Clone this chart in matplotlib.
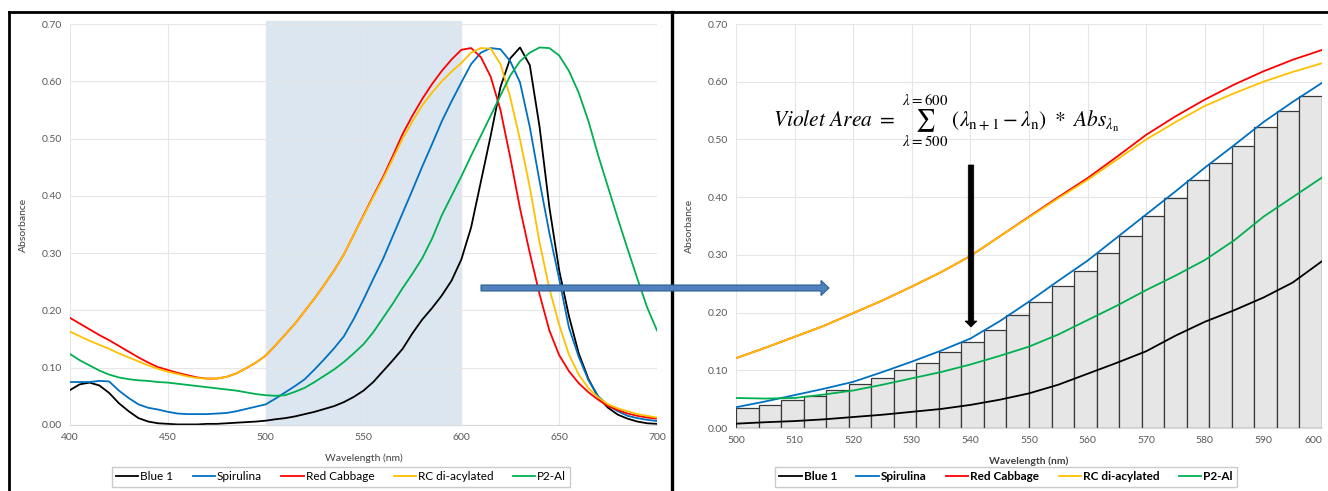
#! /usr/bin/env python3

import numpy as np
import matplotlib
matplotlib.use('Agg')
import matplotlib.pyplot as plt
from matplotlib.lines import Line2D
from matplotlib.patches import FancyArrow

# wavelength grid (nm), 5 nm steps
wavelength = list(range(400, 705, 5))

blue1 = [0.061, 0.071, 0.074, 0.069, 0.056, 0.038, 0.024, 0.012, 0.006, 0.003,
         0.002, 0.001, 0.001, 0.001, 0.002, 0.002, 0.003, 0.004, 0.005, 0.006,
         0.0075, 0.010, 0.012, 0.015, 0.019, 0.023, 0.028, 0.033, 0.040, 0.049,
         0.060, 0.075, 0.094, 0.113, 0.133, 0.160, 0.184, 0.204, 0.226, 0.252,
         0.289, 0.345, 0.425, 0.505, 0.590, 0.640, 0.659, 0.628, 0.520, 0.380,
         0.270, 0.190, 0.125, 0.080, 0.048, 0.030, 0.018, 0.011, 0.006, 0.003,
         0.002]

spirulina = [0.075, 0.075, 0.075, 0.077, 0.076, 0.060, 0.047, 0.036, 0.030, 0.027,
             0.023, 0.020, 0.019, 0.019, 0.019, 0.020, 0.021, 0.024, 0.028, 0.032,
             0.036, 0.046, 0.057, 0.068, 0.080, 0.097, 0.115, 0.134, 0.155, 0.185,
             0.219, 0.255, 0.290, 0.330, 0.370, 0.410, 0.451, 0.490, 0.530, 0.565,
             0.598, 0.630, 0.650, 0.658, 0.656, 0.635, 0.598, 0.520, 0.425, 0.335,
             0.255, 0.170, 0.119, 0.078, 0.050, 0.034, 0.024, 0.016, 0.012, 0.009,
             0.007]

red_cabbage = [0.187, 0.177, 0.167, 0.157, 0.148, 0.138, 0.128, 0.118, 0.109, 0.101,
               0.096, 0.091, 0.087, 0.083, 0.081, 0.081, 0.084, 0.090, 0.099, 0.109,
               0.121, 0.139, 0.158, 0.177, 0.199, 0.221, 0.245, 0.270, 0.298, 0.332,
               0.366, 0.400, 0.433, 0.470, 0.508, 0.540, 0.569, 0.595, 0.618, 0.638,
               0.655, 0.658, 0.642, 0.608, 0.550, 0.467, 0.378, 0.300, 0.228, 0.165,
               0.122, 0.094, 0.073, 0.057, 0.044, 0.033, 0.026, 0.020, 0.016, 0.013,
               0.011]

rc_diacylated = [0.163, 0.155, 0.147, 0.140, 0.133, 0.125, 0.118, 0.111, 0.104, 0.098,
                 0.093, 0.089, 0.085, 0.082, 0.081, 0.081, 0.084, 0.090, 0.099, 0.109,
                 0.121, 0.139, 0.158, 0.177, 0.199, 0.221, 0.245, 0.270, 0.298, 0.332,
                 0.365, 0.398, 0.430, 0.465, 0.500, 0.530, 0.558, 0.580, 0.600, 0.617,
                 0.632, 0.650, 0.658, 0.657, 0.630, 0.572, 0.498, 0.415, 0.318, 0.238,
                 0.175, 0.123, 0.088, 0.064, 0.048, 0.036, 0.029, 0.024, 0.019, 0.016,
                 0.013]

p2_al = [0.124, 0.113, 0.104, 0.095, 0.088, 0.083, 0.080, 0.078, 0.077, 0.075,
         0.074, 0.072, 0.070, 0.068, 0.066, 0.064, 0.062, 0.060, 0.057, 0.054,
         0.052, 0.051, 0.052, 0.058, 0.065, 0.075, 0.086, 0.097, 0.110, 0.125,
         0.141, 0.162, 0.187, 0.212, 0.239, 0.264, 0.291, 0.325, 0.366, 0.400,
         0.434, 0.470, 0.505, 0.540, 0.575, 0.610, 0.635, 0.650, 0.659, 0.658,
         0.645, 0.618, 0.580, 0.530, 0.470, 0.415, 0.360, 0.307, 0.255, 0.205,
         0.165]

# rectangle-sum bars (Spirulina, 500-600 nm)
bar_heights = [0.035, 0.039, 0.048, 0.056, 0.065, 0.076, 0.087, 0.100, 0.113, 0.131,
               0.149, 0.170, 0.195, 0.218, 0.246, 0.272, 0.304, 0.333, 0.367, 0.398,
               0.430, 0.460, 0.489, 0.522, 0.550, 0.576]

series_names = ['Blue 1', 'Spirulina', 'Red Cabbage', 'RC di-acylated', 'P2-Al']
series_colors = ['#000000', '#0070c0', '#ff0000', '#ffc000', '#00b050']
series_data = [blue1, spirulina, red_cabbage, rc_diacylated, p2_al]

left_xticks = [400, 450, 500, 550, 600, 650, 700]
right_xticks = list(range(500, 610, 10))
yticks = [0.0, 0.1, 0.2, 0.3, 0.4, 0.5, 0.6, 0.7]

W, H = 1328, 491
plt.rcParams['font.family'] = ['Lato', 'DejaVu Sans']
plt.rcParams['mathtext.fontset'] = 'stix'


def px_box(x0, x1, ytop, ybot):
    return [x0 / W, 1 - ybot / H, (x1 - x0) / W, (ybot - ytop) / H]


def style_axes(ax, xticks, xlim):
    ax.set_xlim(*xlim)
    ax.set_ylim(0, 0.70)
    ax.set_xticks(xticks)
    ax.set_yticks(yticks)
    ax.set_yticklabels(['{:.2f}'.format(t) for t in yticks])
    ax.grid(True, color='#e6e6e6', linewidth=0.8)
    ax.set_axisbelow(True)
    for s in ['top', 'right', 'left']:
        ax.spines[s].set_visible(False)
    ax.spines['bottom'].set_color('#d9d9d9')
    ax.tick_params(length=0, labelsize=7.5, labelcolor='#595959', pad=6)
    ax.set_xlabel('Wavelength (nm)', fontsize=7.5, color='#404040', labelpad=8)
    ax.set_ylabel('Absorbance', fontsize=7.5, color='#404040', labelpad=10)


def add_legend(ax, cx, bold):
    prop = {'size': 8.5, 'weight': 'bold' if bold else 'normal'}
    leg = fig.legend(*ax.get_legend_handles_labels(), loc='center',
                     bbox_to_anchor=(cx / W, 1 - 477 / H), ncol=5, prop=prop,
                     frameon=True, fancybox=False, edgecolor='#bfbfbf',
                     handlelength=1.9, handletextpad=0.15, columnspacing=1.65,
                     borderpad=0.35, borderaxespad=0)
    leg.get_frame().set_linewidth(1.0)
    return leg


fig = plt.figure(figsize=(W / 100, H / 100), dpi=100)
wl = np.array(wavelength)

# ---- left panel: full spectra
ax1 = fig.add_axes(px_box(70, 657, 24, 425))
ax1.axvspan(500, 600, ymin=0, ymax=1.008, color='#dce6f1', zorder=0.5, clip_on=False)
for name, color, data in zip(series_names, series_colors, series_data):
    ax1.plot(wl, data, color=color, linewidth=1.3, label=name)
style_axes(ax1, left_xticks, (400, 700))
add_legend(ax1, 341, False)

# ---- right panel: zoom on 500-600 with rectangles
ax2 = fig.add_axes(px_box(736, 1322, 24, 428))
nbars = len(bar_heights)
bar_w = 100.0 / nbars
bar_x = 500 + bar_w * np.arange(nbars)
ax2.bar(bar_x, bar_heights, width=bar_w, align='edge', color='#e6e6e6',
        edgecolor='#3a3a3a', linewidth=0.9, zorder=2)
mask = (wl >= 500) & (wl <= 600)
for name, color, data in zip(series_names, series_colors, series_data):
    ax2.plot(wl[mask], np.array(data)[mask], color=color, linewidth=1.3,
             label=name, zorder=3)
style_axes(ax2, right_xticks, (500, 600))
ax2.xaxis.label.set_fontweight('bold')
# keep the last tick label inside the figure
ax2.get_xticklabels()[-1].set_horizontalalignment('right')
add_legend(ax2, 1006, True)

# formula
fig.text(946 / W, 1 - 121 / H,
         r'$Violet\ Area\ =\ \sum_{\lambda=500}^{\lambda=600}\ (\lambda_{\mathrm{n+1}} - \lambda_{\mathrm{n}})\ *\ Abs_{\lambda_{\mathrm{n}}}$',
         fontsize=15.5, ha='center', va='center')

# arrows (drawn in inches)
fig.patches.append(FancyArrow(4.81, (H - 288) / 100, 3.48, 0, width=0.06,
                              head_width=0.15, head_length=0.08,
                              length_includes_head=True, facecolor='#4f81bd',
                              edgecolor='#2f5f96', linewidth=0.8,
                              transform=fig.dpi_scale_trans, zorder=10))
fig.patches.append(FancyArrow(9.71, (H - 165) / 100, 0, -1.62, width=0.055,
                              head_width=0.12, head_length=0.06,
                              length_includes_head=True, facecolor='black',
                              edgecolor='black', linewidth=0.5,
                              transform=fig.dpi_scale_trans, zorder=10))


# panel frames
def frame_line(xs, ys, lw):
    fig.add_artist(Line2D([x / W for x in xs], [1 - y / H for y in ys],
                          color='black', linewidth=lw, transform=fig.transFigure))


frame_line([9, 1328], [12, 12], 2.0)
frame_line([9, 9], [12, 491], 2.0)
frame_line([672, 672], [12, 491], 2.4)

plt.savefig('out.png', dpi=100)
